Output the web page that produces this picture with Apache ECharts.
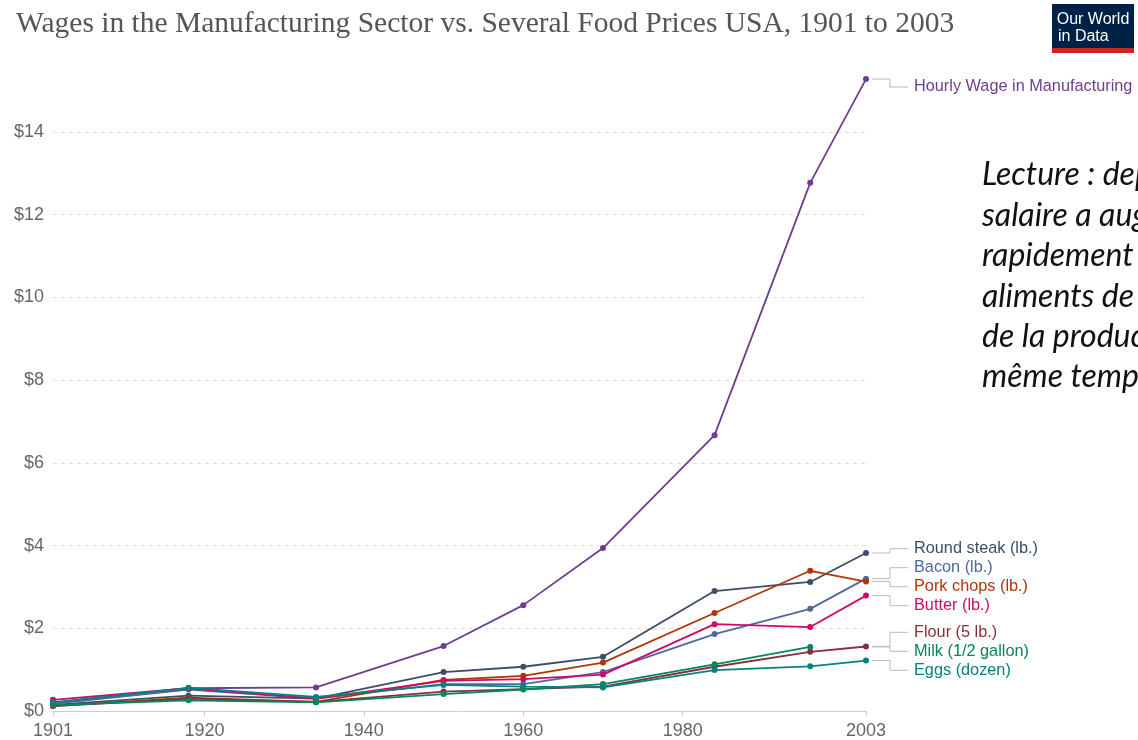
<!DOCTYPE html>
<html>
<head>
<meta charset="utf-8">
<style>
  html, body { margin: 0; padding: 0; background: #fff; }
  #chart { width: 1138px; height: 740px; }
</style>
<script src="https://cdn.jsdelivr.net/npm/echarts@6/dist/echarts.min.js"></script>
</head>
<body>
<div id="chart"></div>
<script>
// Survey years
const years = [1901, 1918, 1934, 1950, 1960, 1970, 1984, 1996, 2003];

// Nominal prices in US dollars
const hourlyWage = [0.20, 0.55, 0.57, 1.57, 2.56, 3.94, 6.67, 12.77, 15.28];
const roundSteak = [0.15, 0.37, 0.30, 0.94, 1.07, 1.31, 2.90, 3.12, 3.82];
const bacon      = [0.17, 0.52, 0.30, 0.65, 0.65, 0.94, 1.86, 2.47, 3.20];
const porkChops  = [0.12, 0.32, 0.22, 0.75, 0.85, 1.17, 2.37, 3.39, 3.13];
const butter     = [0.27, 0.55, 0.30, 0.73, 0.77, 0.88, 2.10, 2.03, 2.79];
const flour      = [0.12, 0.30, 0.22, 0.47, 0.53, 0.59, 1.07, 1.43, 1.56];
const milk       = [0.14, 0.26, 0.21, 0.41, 0.52, 0.65, 1.13, 1.55, null];
const eggs       = [0.21, 0.56, 0.34, 0.63, 0.59, 0.57, 0.99, 1.08, 1.22];

const seriesNames = ['Hourly Wage in Manufacturing', 'Round steak (lb.)', 'Bacon (lb.)',
  'Pork chops (lb.)', 'Butter (lb.)', 'Flour (5 lb.)', 'Milk (1/2 gallon)', 'Eggs (dozen)'];
const seriesValues = [hourlyWage, roundSteak, bacon, porkChops, butter, flour, milk, eggs];
const seriesColors = ['#6d3e91', '#3c4e66', '#4c6a9c', '#b13507', '#cf0a66', '#883039', '#00875e', '#00847e'];

// Axis ticks
const xTickYears = [1901, 1920, 1940, 1960, 1980, 2003];

const title = 'Wages in the Manufacturing Sector vs. Several Food Prices USA, 1901 to 2003';
const noteLines = ['Lecture : depuis', 'salaire a augmenté', 'rapidement que', 'aliments de base',
  'de la production', 'même temps'];

const chart = echarts.init(document.getElementById('chart'), null, { renderer: 'canvas' });

const series = seriesNames.map((name, i) => ({
  name: name,
  type: 'line',
  data: years.map((y, k) => [y, seriesValues[i][k]]),
  connectNulls: false,
  clip: false,
  symbol: 'circle',
  symbolSize: 6,
  showSymbol: true,
  lineStyle: { width: 1.8, color: seriesColors[i] },
  itemStyle: { color: seriesColors[i] },
  emphasis: { disabled: true },
  z: 2 + i
}));

const option = {
  animation: false,
  backgroundColor: '#ffffff',
  title: {
    text: title,
    left: 11,
    top: 4,
    textStyle: { fontFamily: 'Liberation Serif', fontWeight: 'normal', fontSize: 29.5, color: '#555555' }
  },
  grid: { left: 53, right: 272, top: 132, bottom: 29, containLabel: false },
  xAxis: {
    type: 'value',
    min: 1901,
    max: 2003,
    axisLine: { show: true, lineStyle: { color: '#cccccc', width: 1 } },
    axisTick: { show: true, length: 5, lineStyle: { color: '#cccccc' }, customValues: xTickYears },
    axisLabel: {
      customValues: xTickYears,
      margin: 11,
      color: '#666666',
      fontFamily: 'Liberation Sans',
      fontSize: 18,
      formatter: v => String(v)
    },
    splitLine: { show: false }
  },
  yAxis: {
    type: 'value',
    min: 0,
    max: 14,
    interval: 2,
    axisLine: { show: false },
    axisTick: { show: false },
    axisLabel: {
      margin: 9,
      color: '#666666',
      fontFamily: 'Liberation Sans',
      fontSize: 18,
      formatter: v => '$' + v
    },
    splitLine: { show: true, lineStyle: { color: '#dddddd', type: [4, 4], width: 1 } }
  },
  tooltip: { show: false },
  series: series
};

chart.setOption(option);

// Spread end labels vertically so they do not overlap, keeping each cluster centred on its points
function spreadLabels(items, gap, minY) {
  const sorted = items.slice().sort((a, b) => a.target - b.target);
  const groups = sorted.map(it => ({ members: [it] }));
  const place = g => {
    const mean = g.members.reduce((s, m) => s + m.target, 0) / g.members.length;
    g.top = Math.max(minY, mean - (g.members.length - 1) * gap / 2);
  };
  groups.forEach(place);
  let merged = true;
  while (merged) {
    merged = false;
    for (let i = 0; i < groups.length - 1; i++) {
      const a = groups[i], b = groups[i + 1];
      if (a.top + a.members.length * gap > b.top + 0.01) {
        a.members = a.members.concat(b.members);
        place(a);
        groups.splice(i + 1, 1);
        merged = true;
        break;
      }
    }
  }
  groups.forEach(g => g.members.forEach((m, k) => { m.y = g.top + k * gap; }));
}

function drawDecorations() {
  const rightEdge = chart.convertToPixel({ xAxisIndex: 0 }, 2003);
  const items = seriesNames.map((name, i) => {
    const vals = seriesValues[i];
    let last = vals.length - 1;
    while (vals[last] == null) last--;
    const py = chart.convertToPixel({ yAxisIndex: 0 }, vals[last]);
    return { name: name, color: seriesColors[i], target: py };
  });
  spreadLabels(items, 19, 87);

  const graphics = [];
  const x0 = rightEdge + 6, xv = rightEdge + 24, x1 = rightEdge + 42, xt = rightEdge + 48;
  items.forEach(it => {
    graphics.push({
      type: 'polyline',
      silent: true,
      shape: { points: [[x0, it.target], [xv, it.target], [xv, it.y], [x1, it.y]] },
      style: { stroke: '#bbbbbb', lineWidth: 1, fill: null }
    });
    graphics.push({
      type: 'text',
      silent: true,
      x: xt,
      y: it.y,
      style: {
        text: it.name, fill: it.color, font: '16.3px "Liberation Sans"',
        textAlign: 'left', textVerticalAlign: 'middle'
      }
    });
  });

  // Explanatory note on the right
  noteLines.forEach((line, k) => {
    graphics.push({
      type: 'text',
      silent: true,
      x: 982,
      y: 175 + k * 40.4,
      style: {
        text: line, fill: '#111111', font: 'italic 32px Lato',
        textAlign: 'left', textVerticalAlign: 'middle'
      }
    });
  });

  // Logo block
  graphics.push({ type: 'rect', silent: true, shape: { x: 1052, y: 4, width: 82, height: 45 }, style: { fill: '#002147' } });
  graphics.push({ type: 'rect', silent: true, shape: { x: 1052, y: 48, width: 82, height: 5 }, style: { fill: '#ce261e' } });
  graphics.push({ type: 'text', silent: true, x: 1093, y: 20, style: { text: 'Our World', fill: '#ffffff', font: '16px "Liberation Sans"', textAlign: 'center', textVerticalAlign: 'middle' } });
  graphics.push({ type: 'text', silent: true, x: 1058, y: 37, style: { text: 'in Data', fill: '#ffffff', font: '16px "Liberation Sans"', textAlign: 'left', textVerticalAlign: 'middle' } });

  chart.setOption({ graphic: graphics });
}

drawDecorations();
</script>
</body>
</html>
